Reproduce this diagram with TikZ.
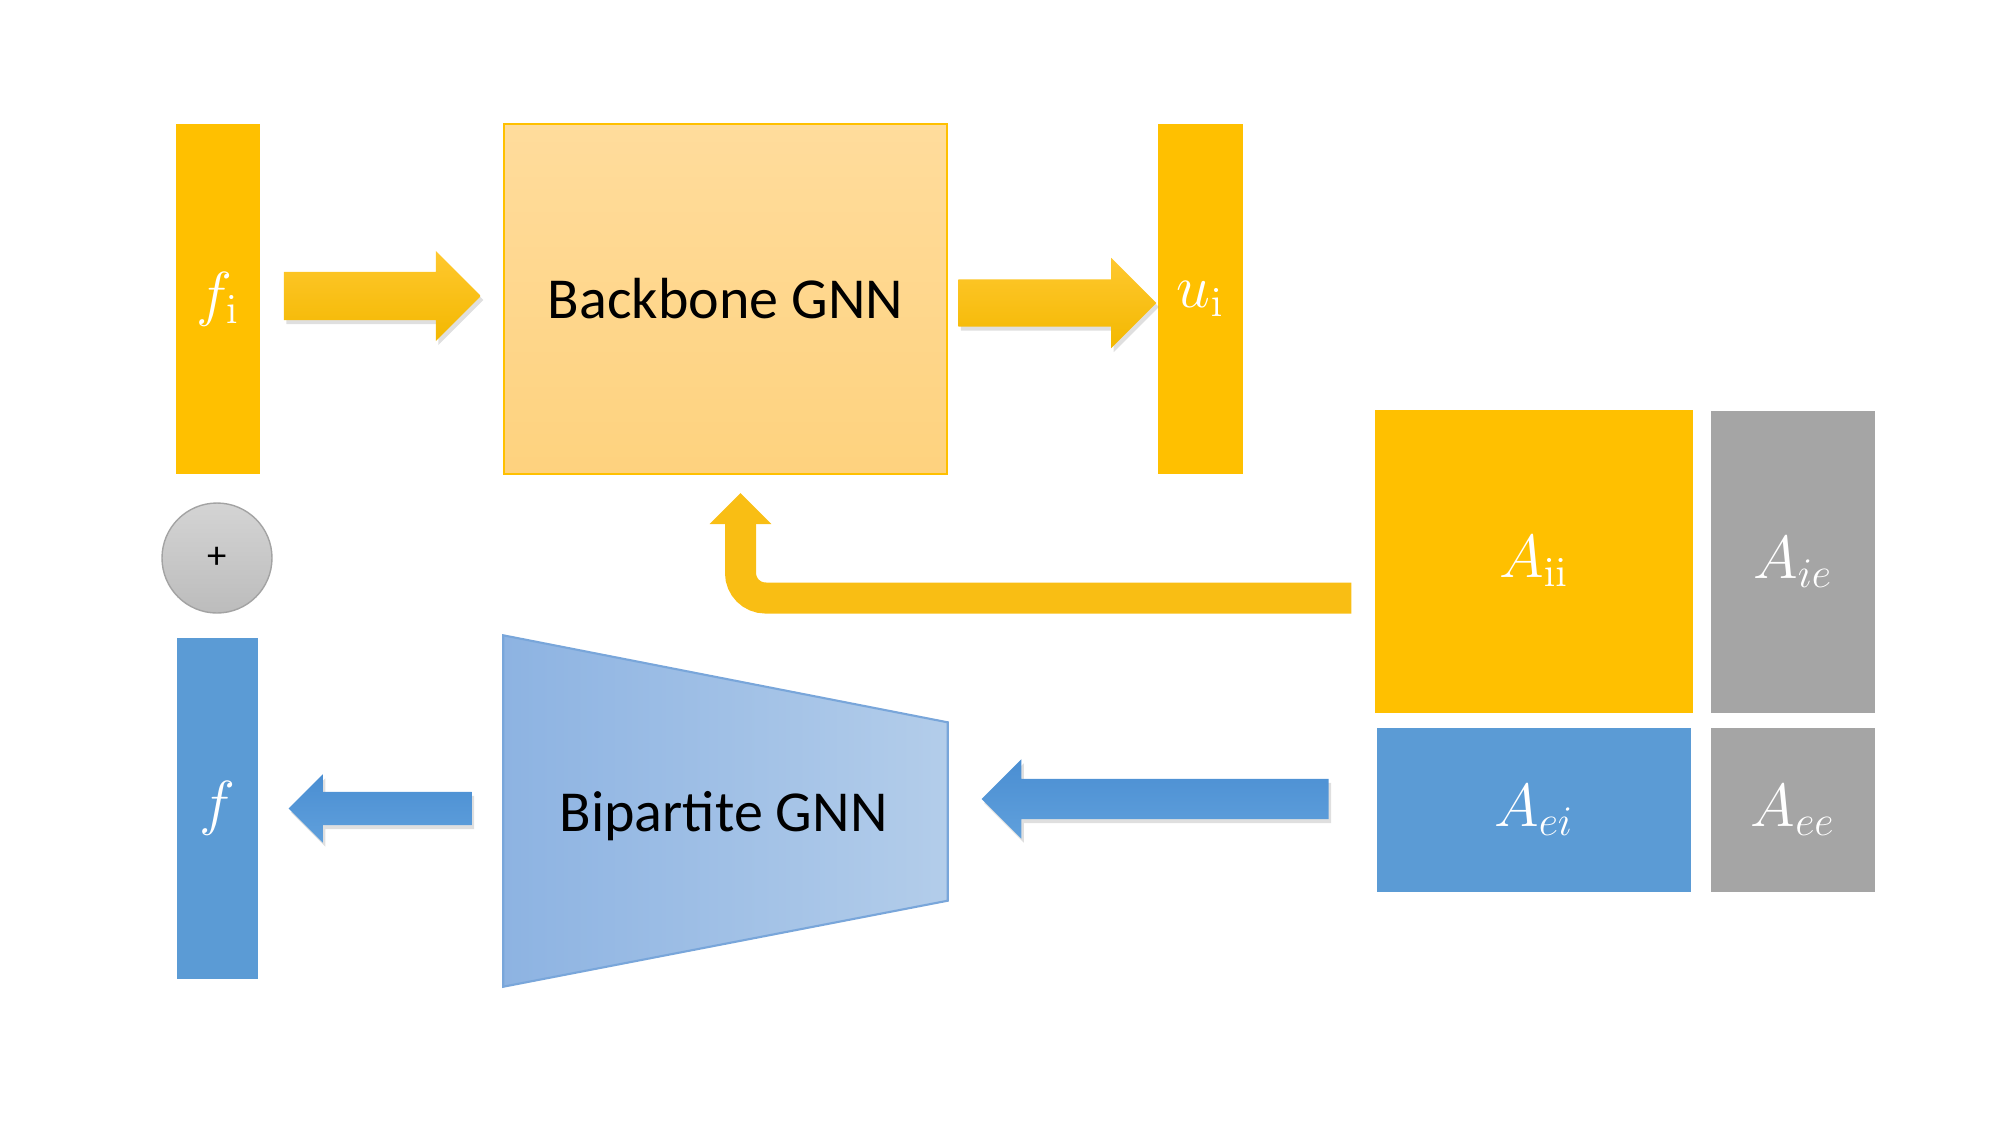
\documentclass[tikz,border=0pt]{standalone}
\usepackage{amsmath}
\usepackage[no-math]{fontspec}
\setmainfont{Carlito}
\usepackage{tikz}
\usetikzlibrary{shapes.arrows, shadows, arrows.meta}

\definecolor{gold}{HTML}{FFC000}
\definecolor{goldlight}{HTML}{FFDC9C}
\definecolor{goldmid}{HTML}{FED27E}
\definecolor{arrowgoldtop}{HTML}{FFC82F}
\definecolor{arrowgoldbottom}{HTML}{F3B800}
\definecolor{bendgold}{HTML}{F9BE14}
\definecolor{steel}{HTML}{5B9BD5}
\definecolor{steellight}{HTML}{B3CDEA}
\definecolor{steelmid}{HTML}{8DB3E2}
\definecolor{steeledge}{HTML}{79A6DA}
\definecolor{arrowsteeltop}{HTML}{4A8ED2}
\definecolor{arrowsteelbottom}{HTML}{60A0DC}
\definecolor{ash}{HTML}{A5A5A5}
\definecolor{plustop}{HTML}{D4D4D4}
\definecolor{plusbottom}{HTML}{BCBCBC}
\definecolor{plusedge}{HTML}{A3A3A3}

\begin{document}
\begin{tikzpicture}[
  bar/.style={inner sep=0pt, text=white, font=\fontsize{18}{21}\selectfont},
  gnn/.style={font=\fontsize{16.5}{20}\selectfont},
  gold arrow/.style={single arrow, single arrow head indent=0pt, inner xsep=0pt, top color=arrowgoldtop, bottom color=arrowgoldbottom, drop shadow={opacity=0.25, shadow xshift=0.025cm, shadow yshift=-0.04cm}},
  steel arrow/.style={single arrow, shape border rotate=180, single arrow head indent=0pt, inner xsep=0pt, top color=arrowsteeltop, bottom color=arrowsteelbottom, drop shadow={opacity=0.25, shadow xshift=0.025cm, shadow yshift=-0.04cm}},
  bend gold line/.style={line width=0.31cm, draw=bendgold, rounded corners=0.25cm, -{Triangle[width=0.6cm, length=0.31cm]}}
]
\useasboundingbox (0,0) rectangle (20,-11.25);

% internal branch
\node[bar, fill=gold, minimum width=0.84cm, minimum height=3.5cm] (fi bar) at (2.18,-2.99) {$f_{\mathrm{i}}$};
\node[gnn, draw=gold, line width=0.6pt, top color=goldlight, bottom color=goldmid, minimum width=4.43cm, minimum height=3.5cm] (backbone box) at (7.255,-2.99) {Backbone GNN};
\node[bar, fill=gold, minimum width=0.85cm, minimum height=3.5cm] (ui bar) at (12.005,-2.99) {$u_{\mathrm{i}}$};

\node[circle, draw=plusedge, top color=plustop, bottom color=plusbottom, minimum size=1.1cm, inner sep=0pt, font=\fontsize{11}{13}\selectfont] (plus node) at (2.17,-5.58) {+};

% external branch
\node[bar, fill=steel, minimum width=0.81cm, minimum height=3.41cm] (f bar) at (2.175,-8.085) {$f$};
\node[minimum width=4.43cm, minimum height=3.5cm, inner sep=0pt] (bipartite box) at (7.255,-8.11) {};
\path[left color=steelmid, right color=steellight, draw=steeledge, line width=0.6pt] (bipartite box.north west) -- ([yshift=-0.87cm]bipartite box.north east) -- ([yshift=0.86cm]bipartite box.south east) -- (bipartite box.south west) -- cycle;
\node[gnn] (bipartite label) at ([xshift=-0.02cm, yshift=-0.05cm]bipartite box.center) {Bipartite GNN};

% adjacency blocks
\node[bar, fill=gold, minimum width=3.18cm, minimum height=3.03cm] (aii box) at (15.34,-5.615) {$A_{\mathrm{ii}}$};
\node[bar, fill=ash, minimum width=1.64cm, minimum height=3.02cm] (aie box) at (17.93,-5.62) {$A_{ie}$};
\node[bar, fill=steel, minimum width=3.14cm, minimum height=1.64cm] (aei box) at (15.34,-8.10) {$A_{ei}$};
\node[bar, fill=ash, minimum width=1.64cm, minimum height=1.64cm] (aee box) at (17.93,-8.10) {$A_{ee}$};

% arrows
\node[gold arrow, minimum height=1.97cm, inner ysep=0.235cm, single arrow head extend=0.21cm, anchor=tip] (fi arrow) at ([xshift=-0.21cm, yshift=0.03cm]backbone box.west) {};
\node[gold arrow, minimum height=1.98cm, inner ysep=0.23cm, single arrow head extend=0.215cm, anchor=tip] (ui arrow) at ([yshift=-0.04cm]ui bar.west) {};
\node[steel arrow, minimum height=1.83cm, inner ysep=0.16cm, single arrow head extend=0.175cm, anchor=tip] (f arrow) at ([xshift=0.29cm]f bar.east) {};
\node[steel arrow, minimum height=3.47cm, inner ysep=0.195cm, single arrow head extend=0.195cm, anchor=tip] (aei arrow) at ([xshift=0.33cm, yshift=0.12cm]bipartite box.east) {};

\draw[bend gold line] ([xshift=-0.23cm, yshift=-0.365cm]aii box.west) -| ([xshift=0.15cm, yshift=-0.18cm]backbone box.south);
\end{tikzpicture}
\end{document}
